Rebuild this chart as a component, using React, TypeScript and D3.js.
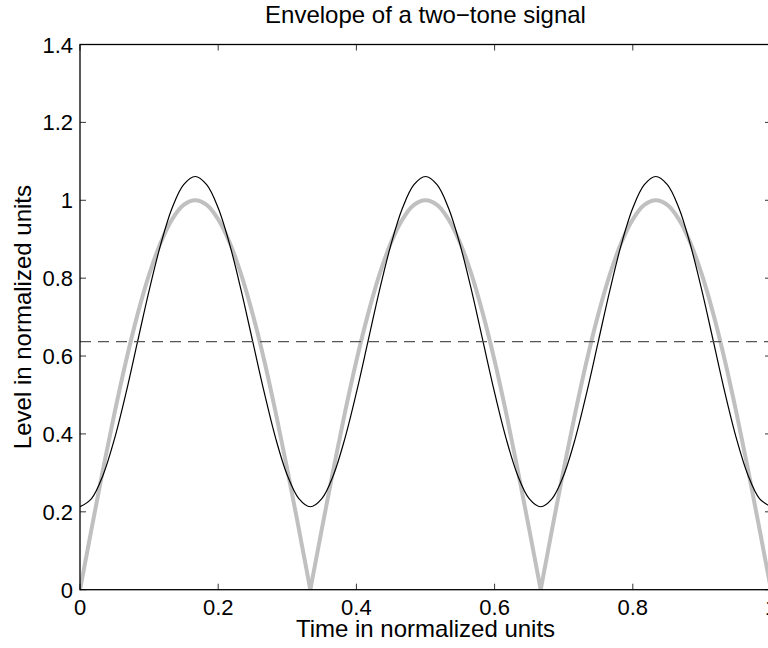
import React, { useEffect, useRef } from 'react'
import * as d3 from 'd3'

// sample times (normalized)
const TIME = [
  0, 0.0167, 0.0333, 0.05, 0.0667, 0.0833, 0.1, 0.1167, 0.1333, 0.15,
  0.1667, 0.1833, 0.2, 0.2167, 0.2333, 0.25, 0.2667, 0.2833, 0.3, 0.3167,
  0.3333, 0.35, 0.3667, 0.3833, 0.4, 0.4167, 0.4333, 0.45, 0.4667, 0.4833,
  0.5, 0.5167, 0.5333, 0.55, 0.5667, 0.5833, 0.6, 0.6167, 0.6333, 0.65,
  0.6667, 0.6833, 0.7, 0.7167, 0.7333, 0.75, 0.7667, 0.7833, 0.8, 0.8167,
  0.8333, 0.85, 0.8667, 0.8833, 0.9, 0.9167, 0.9333, 0.95, 0.9667, 0.9833,
  1,
]

// rectified envelope (thick grey)
const ENVELOPE = [
  0, 0.156, 0.309, 0.454, 0.588, 0.707, 0.809, 0.891, 0.951, 0.988,
  1, 0.988, 0.951, 0.891, 0.809, 0.707, 0.588, 0.454, 0.309, 0.156,
  0, 0.156, 0.309, 0.454, 0.588, 0.707, 0.809, 0.891, 0.951, 0.988,
  1, 0.988, 0.951, 0.891, 0.809, 0.707, 0.588, 0.454, 0.309, 0.156,
  0, 0.156, 0.309, 0.454, 0.588, 0.707, 0.809, 0.891, 0.951, 0.988,
  1, 0.988, 0.951, 0.891, 0.809, 0.707, 0.588, 0.454, 0.309, 0.156,
  0,
]

// first-harmonic approximation (thin black)
const APPROX = [
  0.213, 0.234, 0.294, 0.388, 0.506, 0.637, 0.768, 0.886, 0.98, 1.04,
  1.061, 1.04, 0.98, 0.886, 0.768, 0.637, 0.506, 0.388, 0.294, 0.234,
  0.213, 0.234, 0.294, 0.388, 0.506, 0.637, 0.768, 0.886, 0.98, 1.04,
  1.061, 1.04, 0.98, 0.886, 0.768, 0.637, 0.506, 0.388, 0.294, 0.234,
  0.213, 0.234, 0.294, 0.388, 0.506, 0.637, 0.768, 0.886, 0.98, 1.04,
  1.061, 1.04, 0.98, 0.886, 0.768, 0.637, 0.506, 0.388, 0.294, 0.234,
  0.213,
]

const MEAN_LEVEL = 0.637

const X_TICKS = [0, 0.2, 0.4, 0.6, 0.8, 1]
const Y_TICKS = [0, 0.2, 0.4, 0.6, 0.8, 1, 1.2, 1.4]

const W = 768, H = 648
const margin = { top: 44.5, left: 80, right: -3, bottom: 58.3 }
const width = W - margin.left - margin.right
const height = H - margin.top - margin.bottom
const FONT = '"Liberation Sans", Arial, sans-serif'

export default function App() {
  const ref = useRef<SVGSVGElement>(null)

  useEffect(() => {
    const svg = d3.select(ref.current)
    svg.selectAll('*').remove()

    const x = d3.scaleLinear().domain([0, 1]).range([0, width])
    const y = d3.scaleLinear().domain([0, 1.4]).range([height, 0])

    svg.append('defs').append('clipPath').attr('id', 'plotclip')
      .append('rect').attr('width', width).attr('height', height)

    const g = svg.append('g')
      .attr('transform', `translate(${margin.left},${margin.top})`)

    const plot = g.append('g').attr('clip-path', 'url(#plotclip)')

    const pts = (vals: number[]) => TIME.map((t, i) => [t, vals[i]] as [number, number])

    // grey envelope: one smooth arch between each pair of zeros, keeping the cusps sharp
    const envPts = pts(ENVELOPE)
    const zeros = ENVELOPE.map((v, i) => (v === 0 ? i : -1)).filter(i => i >= 0)
    const arch = d3.line().curve(d3.curveCatmullRom).x(d => x(d[0])).y(d => y(d[1]))
    d3.pairs(zeros).forEach(([a, b]) => {
      plot.append('path')
        .attr('d', arch(envPts.slice(a, b + 1)))
        .attr('fill', 'none')
        .attr('stroke', '#c0c0c0')
        .attr('stroke-width', 4)
        .attr('stroke-linejoin', 'round')
    })

    plot.append('path')
      .attr('d', d3.line().curve(d3.curveCatmullRom).x(d => x(d[0])).y(d => y(d[1]))(pts(APPROX)))
      .attr('fill', 'none')
      .attr('stroke', '#000')
      .attr('stroke-width', 1.2)

    plot.append('line')
      .attr('x1', 0).attr('x2', width)
      .attr('y1', y(MEAN_LEVEL)).attr('y2', y(MEAN_LEVEL))
      .attr('stroke', '#555')
      .attr('stroke-width', 1.2)
      .attr('stroke-dasharray', '11,7')

    // box
    g.append('rect')
      .attr('width', width).attr('height', height)
      .attr('fill', 'none').attr('stroke', '#000').attr('stroke-width', 1.3)

    // ticks, inward on all four sides
    const tk = 6
    X_TICKS.forEach(v => {
      g.append('line').attr('x1', x(v)).attr('x2', x(v)).attr('y1', height).attr('y2', height - tk)
        .attr('stroke', '#000').attr('stroke-width', 0.8)
      g.append('line').attr('x1', x(v)).attr('x2', x(v)).attr('y1', 0).attr('y2', tk)
        .attr('stroke', '#000').attr('stroke-width', 0.8)
      g.append('text').attr('x', x(v)).attr('y', height + 25.5)
        .attr('text-anchor', 'middle').style('font-family', FONT).style('font-size', '22px')
        .text(String(v))
    })
    Y_TICKS.forEach(v => {
      g.append('line').attr('x1', 0).attr('x2', tk).attr('y1', y(v)).attr('y2', y(v))
        .attr('stroke', '#000').attr('stroke-width', 0.8)
      g.append('line').attr('x1', width).attr('x2', width - tk).attr('y1', y(v)).attr('y2', y(v))
        .attr('stroke', '#000').attr('stroke-width', 0.8)
      g.append('text').attr('x', -7).attr('y', y(v) + 8)
        .attr('text-anchor', 'end').style('font-family', FONT).style('font-size', '22px')
        .text(String(v))
    })

    svg.append('text')
      .attr('x', margin.left + width / 2).attr('y', 23)
      .attr('text-anchor', 'middle').style('font-family', FONT).style('font-size', '24px')
      .text('Envelope of a two\u2212tone signal')

    svg.append('text')
      .attr('x', margin.left + width / 2).attr('y', 637)
      .attr('text-anchor', 'middle').style('font-family', FONT).style('font-size', '24px')
      .text('Time in normalized units')

    svg.append('text')
      .attr('transform', `translate(31,${margin.top + height / 2}) rotate(-90)`)
      .attr('text-anchor', 'middle').style('font-family', FONT).style('font-size', '24px')
      .text('Level in normalized units')
  }, [])

  return (
    <svg ref={ref} width={W} height={H}
      style={{ position: 'absolute', left: 0, top: 0, background: '#fff' }} />
  )
}
